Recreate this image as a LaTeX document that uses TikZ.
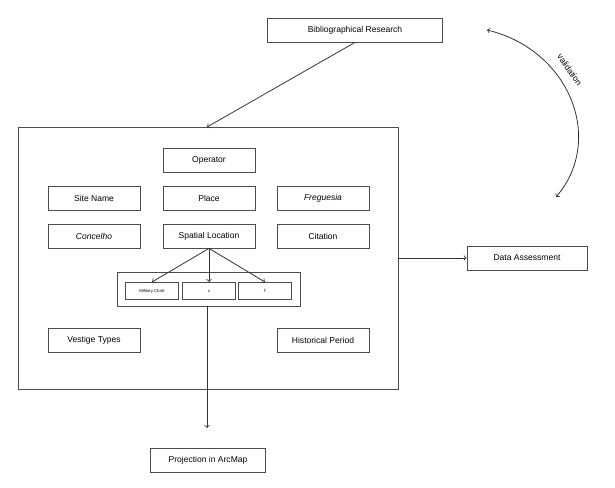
\documentclass[tikz,border=0pt]{standalone}
\usepackage{fontspec}
\setmainfont{Liberation Sans}
\usetikzlibrary{positioning}

\tikzset{
  field/.style={draw=black!70, fill=white, line width=0.6pt, minimum width=69pt,
    minimum height=18pt, inner sep=1pt, font=\fontsize{6.4}{7}\selectfont},
  tiny/.style={draw=black!70, line width=0.5pt, minimum width=40pt,
    minimum height=13pt, inner sep=0.5pt, font=\fontsize{3.2}{4}\selectfont},
  flow/.style={->, >=to, draw=black!80, line width=0.6pt}
}

\begin{document}
\begin{tikzpicture}[x=0.75pt,y=-0.75pt]
  \useasboundingbox (0,0) rectangle (615,487);

  % outer frame with the record fields
  \node[draw=black!70, line width=0.6pt, minimum width=285pt, minimum height=196.5pt] (frame) at (208,258) {};

  \node[field, minimum width=131pt] (biblio) at (355,30) {Bibliographical Research};

  \node[field] (operator) at (209,160) {Operator};
  \node[field] (site) at (94,198) {Site Name};
  \node[field] (place) at (209,198) {Place};
  \node[field] (freg) at (323,198) {\itshape Freguesia};
  \node[field] (concelho) at (94,236) {\itshape Concelho};
  \node[field] (spatial) at (209,236) {Spatial Location};
  \node[field] (citation) at (323,236) {Citation};

  % coordinates of the site
  \node[draw=black!70, line width=0.6pt, minimum width=137pt, minimum height=25.5pt] (coords) at (209,289) {};
  \node[tiny] (chart) at (152,291) {Military Chart};
  \node[tiny] (xcoord) at (209,291) {x};
  \node[tiny] (ycoord) at (265,291) {y};

  \node[field] (vestige) at (94,340) {Vestige Types};
  \node[field] (period) at (323,340) {Historical Period};

  \node[field, minimum width=90pt] (assess) at (527,258) {Data Assessment};
  \node[field, minimum width=86pt] (arcmap) at (208,460) {Projection in ArcMap};

  \coordinate (entry) at (207,127);
  \coordinate (down) at (207,428);
  \coordinate (valtop) at (487,30);
  \coordinate (valbot) at (556,197);

  \draw[flow] (biblio.south) -- (entry);
  \draw[flow] (spatial.south) -- (chart.north);
  \draw[flow] (spatial.south) -- (xcoord.north);
  \draw[flow] (spatial.south) -- (ycoord.north);
  \draw[flow] (coords.south -| down) -- (down);
  \draw[flow] (frame.east |- assess) -- (assess.west);

  \draw[flow, <->] (valtop) .. controls (570,50) and (605,140) .. (valbot)
    node[pos=0.38, sloped, above=4pt, font=\fontsize{6.4}{7}\selectfont] {validation};
\end{tikzpicture}
\end{document}
